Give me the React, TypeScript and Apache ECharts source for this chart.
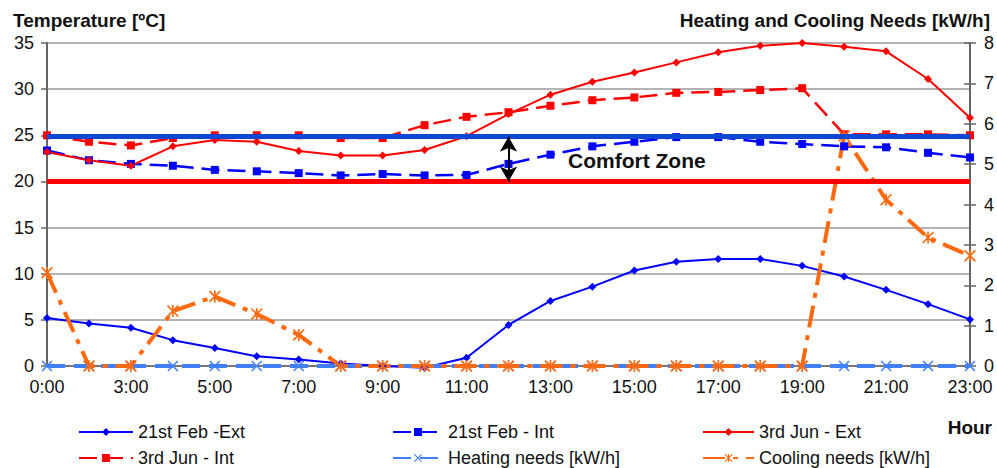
import React, { useEffect, useRef } from "react";
import * as echarts from "echarts";

const hours = ["0:00", "1:00", "3:00", "4:00", "5:00", "6:00", "7:00", "8:00", "9:00", "10:00", "11:00", "12:00", "13:00", "14:00", "15:00", "16:00", "17:00", "18:00", "19:00", "20:00", "21:00", "22:00", "23:00"];

const febExt = [5.2, 4.6, 4.15, 2.8, 1.95, 1.05, 0.7, 0.26, 0, -0.2, 0.9, 4.45, 7.05, 8.6, 10.35, 11.3, 11.6, 11.6, 10.85, 9.7, 8.25, 6.7, 5.05];
const febInt = [23.35, 22.3, 21.9, 21.7, 21.25, 21.1, 20.9, 20.65, 20.8, 20.65, 20.7, 21.9, 22.9, 23.8, 24.3, 24.8, 24.8, 24.3, 24.05, 23.8, 23.7, 23.1, 22.6];
const junExt = [23.2, 22.3, 21.7, 23.8, 24.5, 24.3, 23.3, 22.8, 22.8, 23.4, 24.9, 27.3, 29.4, 30.8, 31.8, 32.9, 34.0, 34.7, 35.0, 34.6, 34.1, 31.1, 26.9];
const junInt = [25.0, 24.3, 23.9, 24.7, 25.0, 25.0, 25.0, 24.7, 24.7, 26.1, 27.0, 27.5, 28.2, 28.8, 29.1, 29.6, 29.7, 29.9, 30.1, 25.1, 25.1, 25.1, 25.0];
const heating = [0, 0, 0, 0, 0, 0, 0, 0, 0, 0, 0, 0, 0, 0, 0, 0, 0, 0, 0, 0, 0, 0, 0];
const cooling = [2.31, 0, 0, 1.36, 1.72, 1.29, 0.77, 0, 0, 0, 0, 0, 0, 0, 0, 0, 0, 0, 0, 5.7, 4.12, 3.18, 2.73];

const comfortMax = 24.85;
const comfortMin = 20;
const arrowHour = "12:00";

const tempTicks = { min: 0, max: 35, interval: 5 };
const needTicks = { min: 0, max: 8, interval: 1 };

const FONT = "'Liberation Sans', Arial, sans-serif";
const TXT = "#111";
const X_SYMBOL = "path://M1,0L5,4L9,0L10,1L6,5L10,9L9,10L5,6L1,10L0,9L4,5L0,1Z";
const STAR_SYMBOL = "path://M1,0L5,4L9,0L10,1L6,5L10,9L9,10L5,6L1,10L0,9L4,5L0,1ZM4.3,0L5.7,0L5.7,10L4.3,10Z";

export default function App() {
  const ref = useRef<HTMLDivElement>(null);

  useEffect(() => {
    if (!ref.current) return;
    const chart = echarts.init(ref.current, null, { renderer: "svg" });

    const legendBase = {
      itemHeight: 10,
      textStyle: { fontSize: 18, color: TXT, fontFamily: FONT },
      selectedMode: false,
      padding: 0,
    };

    const option: any = {
      animation: false,
      backgroundColor: "#fff",
      grid: { left: 47, right: 27, top: 43, bottom: 102 },
      xAxis: {
        type: "category",
        data: hours,
        boundaryGap: false,
        axisLine: { show: true, lineStyle: { color: "#777", width: 2 } },
        axisTick: { show: false },
        axisLabel: { interval: 1, color: TXT, fontSize: 18, fontFamily: FONT, margin: 12 },
        splitLine: { show: false },
      },
      yAxis: [
        {
          type: "value",
          ...tempTicks,
          axisLine: { show: true, lineStyle: { color: "#666", width: 2 } },
          axisTick: { show: true, length: 6, lineStyle: { color: "#666", width: 1.5 } },
          axisLabel: { color: TXT, fontSize: 18, fontFamily: FONT, margin: 13 },
          splitLine: { show: true, lineStyle: { color: "#9a9a9a", width: 1.5 } },
        },
        {
          type: "value",
          position: "right",
          ...needTicks,
          axisLine: { show: true, lineStyle: { color: "#666", width: 2 } },
          axisTick: { show: true, length: 6, lineStyle: { color: "#666", width: 1.5 } },
          axisLabel: { color: TXT, fontSize: 18, fontFamily: FONT, margin: 14 },
          splitLine: { show: false },
        },
        {
          type: "value",
          position: "right",
          ...needTicks,
          axisLine: { show: false },
          axisTick: { show: true, inside: true, length: 6, lineStyle: { color: "#666", width: 1.5 } },
          axisLabel: { show: false },
          splitLine: { show: false },
        },
      ],
      legend: [
        { ...legendBase, data: ["21st Feb -Ext"], left: 78, top: 423, itemWidth: 54 },
        { ...legendBase, data: ["21st Feb - Int"], left: 392, top: 423, itemWidth: 50 },
        { ...legendBase, data: ["3rd Jun - Ext"], left: 702, top: 423, itemWidth: 51 },
        { ...legendBase, data: ["3rd Jun - Int"], left: 78, top: 449, itemWidth: 54 },
        { ...legendBase, data: ["Heating needs [kW/h]"], left: 392, top: 449, itemWidth: 50 },
        { ...legendBase, data: ["Cooling needs [kW/h]"], left: 702, top: 449, itemWidth: 51 },
      ],
      series: [
        {
          name: "21st Feb -Ext",
          type: "line",
          data: febExt,
          clip: false,
          symbol: "diamond",
          symbolSize: 8,
          color: "#0000ff",
          lineStyle: { color: "#0000ff", width: 2 },
          itemStyle: { color: "#0000ff" },
        },
        {
          name: "21st Feb - Int",
          type: "line",
          data: febInt,
          symbol: "rect",
          symbolSize: 8,
          color: "#0000ff",
          lineStyle: { color: "#0000ff", width: 2.5, type: [18, 8] },
          itemStyle: { color: "#0000ff" },
        },
        {
          name: "3rd Jun - Ext",
          type: "line",
          data: junExt,
          symbol: "diamond",
          symbolSize: 8,
          color: "#ff0000",
          lineStyle: { color: "#ff0000", width: 2 },
          itemStyle: { color: "#ff0000" },
        },
        {
          name: "3rd Jun - Int",
          type: "line",
          data: junInt,
          symbol: "rect",
          symbolSize: 8,
          color: "#ff0000",
          lineStyle: { color: "#ff0000", width: 2.5, type: [18, 8] },
          itemStyle: { color: "#ff0000" },
        },
        {
          name: "Heating needs [kW/h]",
          type: "line",
          yAxisIndex: 1,
          data: heating,
          symbol: X_SYMBOL,
          symbolSize: 11,
          color: "#4080ff",
          lineStyle: { color: "#4080ff", width: 4, type: [18, 9] },
          itemStyle: { color: "#4080ff" },
        },
        {
          name: "Cooling needs [kW/h]",
          type: "line",
          yAxisIndex: 1,
          data: cooling,
          symbol: STAR_SYMBOL,
          symbolSize: 12,
          color: "#ff6a10",
          lineStyle: { color: "#ff6a10", width: 4, type: [22, 8, 5, 8] },
          itemStyle: { color: "#ff6a10" },
        },
        {
          name: "Comfort",
          type: "line",
          data: [],
          z: 5,
          silent: true,
          markLine: {
            silent: true,
            animation: false,
            symbol: "none",
            label: { show: false },
            data: [
              { yAxis: comfortMax, lineStyle: { color: "#1046d4", width: 5, type: "solid" } },
              { yAxis: comfortMin, lineStyle: { color: "#ff0000", width: 5, type: "solid" } },
              [
                { coord: [arrowHour, comfortMax], symbol: "arrow", symbolSize: [13, 15] },
                { coord: [arrowHour, comfortMin], symbol: "arrow", symbolSize: [13, 15] },
              ],
            ],
            lineStyle: { color: "#000", width: 2, type: "solid" },
            itemStyle: { color: "#000" },
          },
        },
      ],
      graphic: [
        {
          type: "text",
          x: 13,
          y: 20,
          style: { text: "Temperature [ºC]", fontSize: 19, fontWeight: "bold", fontFamily: FONT, fill: TXT, align: "left", verticalAlign: "middle" },
        },
        {
          type: "text",
          x: 990,
          y: 20,
          style: { text: "Heating and Cooling Needs [kW/h]", fontSize: 19, fontWeight: "bold", fontFamily: FONT, fill: TXT, align: "right", verticalAlign: "middle" },
        },
        {
          type: "text",
          x: 992,
          y: 427,
          style: { text: "Hour", fontSize: 19, fontWeight: "bold", fontFamily: FONT, fill: TXT, align: "right", verticalAlign: "middle" },
        },
        {
          type: "text",
          x: 568,
          y: 160,
          z: 10,
          style: { text: "Comfort Zone", fontSize: 21, fontWeight: "bold", fontFamily: FONT, fill: TXT, align: "left", verticalAlign: "middle" },
        },
      ],
    };

    chart.setOption(option);
    return () => chart.dispose();
  }, []);

  return <div ref={ref} style={{ width: 997, height: 468, position: "absolute", left: 0, top: 0 }} />;
}
